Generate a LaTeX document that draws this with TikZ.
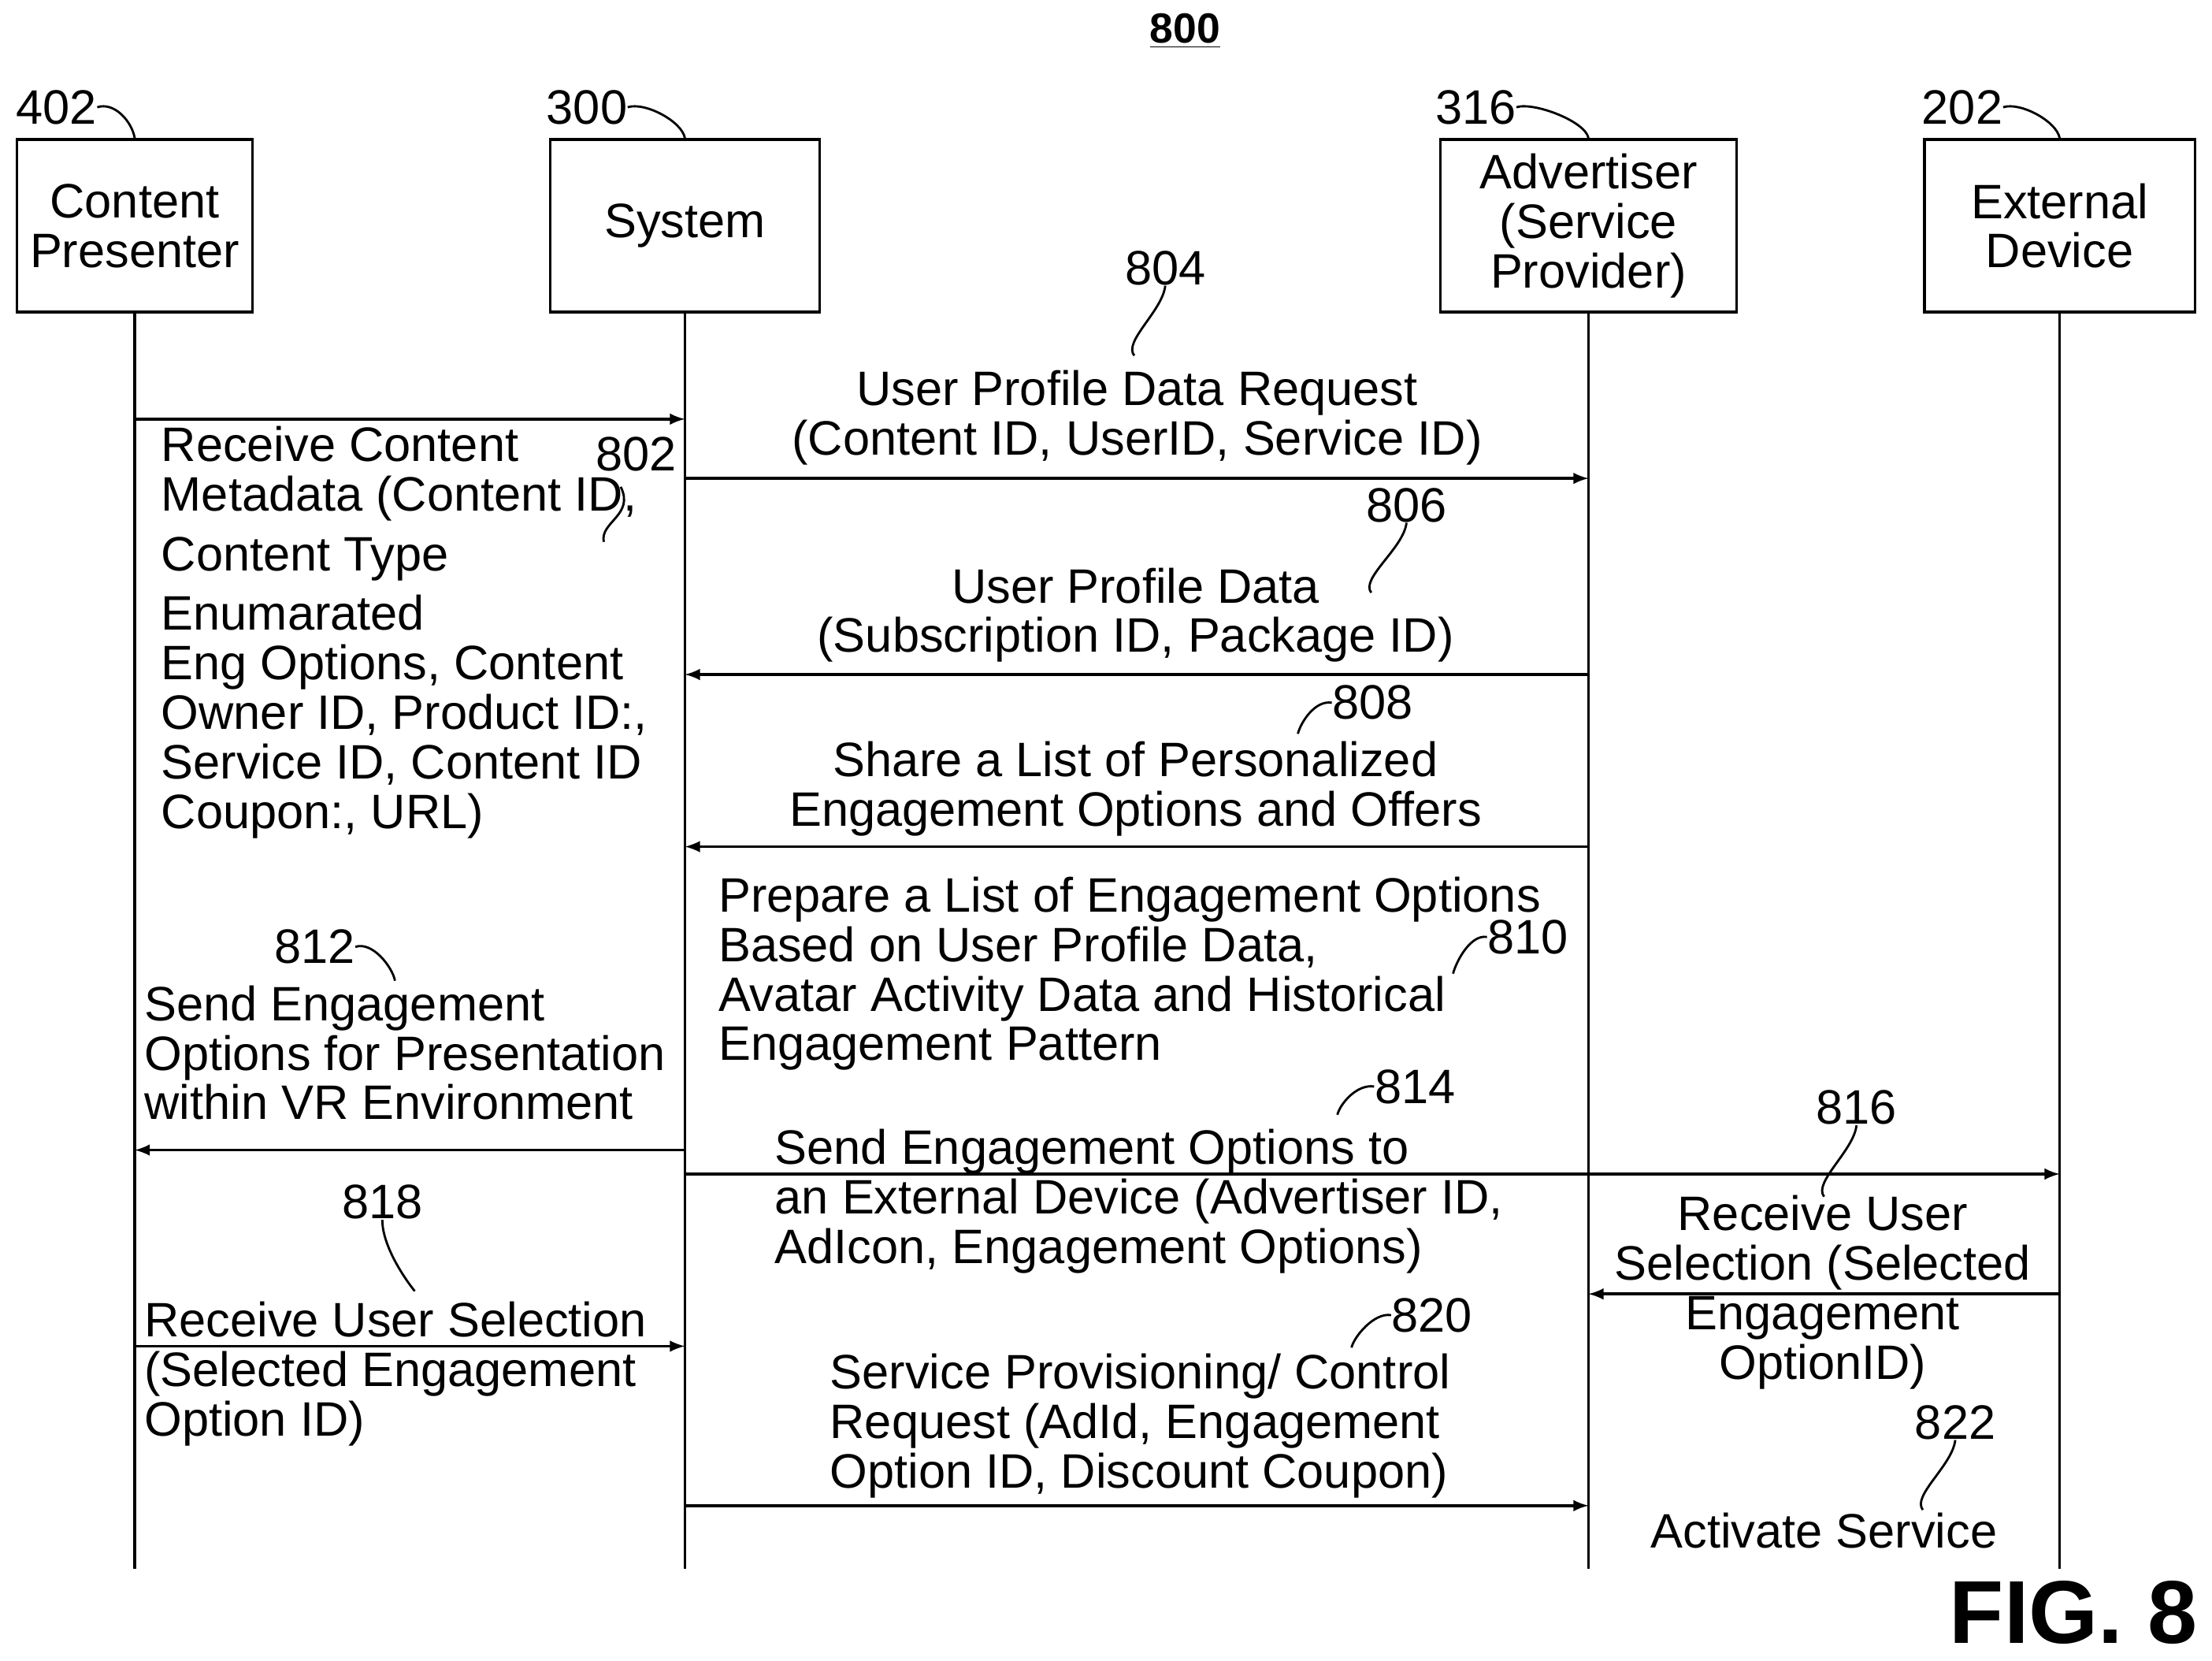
\documentclass[tikz,border=0pt]{standalone}
\usepackage{fontspec}
\setmainfont{Liberation Sans}
\usetikzlibrary{positioning}
\tikzstyle{Actor}=[rectangle, draw=black, line width=1.2pt, align=center, inner sep=0pt]
\tikzstyle{Msg}=[-latex, line width=1.1pt]
\tikzstyle{Lbl}=[align=left, anchor=north west, inner sep=0pt]
\tikzstyle{CLbl}=[align=center, anchor=north, inner sep=0pt]
\tikzstyle{Ref}=[inner sep=0pt]
\tikzstyle{Lead}=[line width=0.9pt]
\begin{document}
\begin{tikzpicture}[x=0.02cm, y=-0.02cm, font=\fontsize{19.5}{20}\selectfont]
    \useasboundingbox (0,0) rectangle (1568,1177);
    % participants
    \path (95.5,160) node[Actor, minimum width=167*0.02cm, minimum height=122*0.02cm] (cp) {Content\\Presenter}
    (485.5,160) node[Actor, minimum width=191*0.02cm, minimum height=122*0.02cm] (sys) {System}
    (1126,160) node[Actor, minimum width=210*0.02cm, minimum height=122*0.02cm] (adv) {Advertiser\\(Service\\Provider)}
    (1460,160) node[Actor, minimum width=192*0.02cm, minimum height=122*0.02cm] (ext) {External\\Device};
    \foreach \n/\t/\x in {cp/402/40, sys/300/416, adv/316/1046, ext/202/1391} {
        \node[Ref] (r\t) at (\x,76) {\t};
        \draw[Lead] (r\t.east) .. controls +(12,-4) and +(-2,-12) .. (\n.north);
    }
    % lifelines
    \foreach \n in {cp, sys, adv, ext}
        \draw[line width=1.1pt] (\n.south) -- (\n.south |- 0,1112) coordinate (\n end);
    \node[font=\bfseries\fontsize{17}{20}\selectfont, Ref] (title) at (840,22) {\underline{800}};
    \node[font=\bfseries\fontsize{36}{40}\selectfont, Ref, anchor=east] (fig) at (1558,1143) {FIG. 8};
    % messages
    \foreach \a/\b/\y in {cp/sys/297, sys/adv/339, adv/sys/478, adv/sys/600, sys/cp/815, sys/ext/832, ext/adv/917, cp/sys/954, sys/adv/1067}
        \draw[Msg] (\a |- 0,\y) -- (\b |- 0,\y);
    % labels
    \node[Lbl] (l802) at (114,302) {Receive Content\\Metadata (Content ID,\\[4pt]Content Type\\[4pt]Enumarated\\Eng Options, Content\\Owner ID, Product ID:,\\Service ID, Content ID\\Coupon:, URL)};
    \node[CLbl] (l804) at (806,262) {User Profile Data Request\\(Content ID, UserID, Service ID)};
    \node[CLbl] (l806) at (805,402) {User Profile Data\\(Subscription ID, Package ID)};
    \node[CLbl] (l808) at (805,525) {Share a List of Personalized\\Engagement Options and Offers};
    \node[Lbl] (l810) at (509,621) {Prepare a List of Engagement Options\\Based on User Profile Data,\\Avatar Activity Data and Historical\\Engagement Pattern};
    \node[Lbl] (l812) at (102,698) {Send Engagement\\Options for Presentation\\within VR Environment};
    \node[Lbl] (l814) at (549,800) {Send Engagement Options to\\an External Device (Advertiser ID,\\AdIcon, Engagement Options)};
    \node[CLbl] (l816) at (1292,847) {Receive User\\Selection (Selected\\Engagement\\OptionID)};
    \node[Lbl] (l818) at (102,922) {Receive User Selection\\(Selected Engagement\\Option ID)};
    \node[Lbl] (l820) at (588,959) {Service Provisioning/ Control\\Request (AdId, Engagement\\Option ID, Discount Coupon)};
    \node[CLbl] (l822) at (1293,1072) {Activate Service};
    % reference numerals
    \foreach \t/\x/\y in {802/451/322, 804/826/190, 806/997/358, 808/973/498, 810/1083/664, 812/223/671, 814/1003/770, 816/1316/785, 818/271/852, 820/1015/932, 822/1386/1008}
        \node[Ref] (n\t) at (\x,\y) {\t};
    \draw[Lead] (440,345) .. controls (450,365) and (425,370) .. (428,384);
    \draw[Lead] (n804.south) .. controls +(-2,18) and +(-8,-10) .. (804,252);
    \draw[Lead] (n806.south) .. controls +(-2,18) and +(-8,-10) .. (972,420);
    \draw[Lead] (n816.south) .. controls +(-2,18) and +(-8,-10) .. (1293,848);
    \draw[Lead] (n818.south) .. controls +(0,18) and +(-8,-10) .. (294,915);
    \draw[Lead] (n822.south) .. controls +(-2,18) and +(-8,-10) .. (1363,1070);
    \draw[Lead] (n808.west) .. controls +(-12,-2) and +(2,-8) .. (920,520);
    \draw[Lead] (n810.west) .. controls +(-12,-2) and +(2,-8) .. (1030,690);
    \draw[Lead] (n814.west) .. controls +(-12,-2) and +(2,-8) .. (948,790);
    \draw[Lead] (n820.west) .. controls +(-12,-2) and +(2,-8) .. (958,955);
    \draw[Lead] (n812.east) .. controls +(12,-4) and +(-2,-10) .. (280,695);
\end{tikzpicture}
\end{document}
